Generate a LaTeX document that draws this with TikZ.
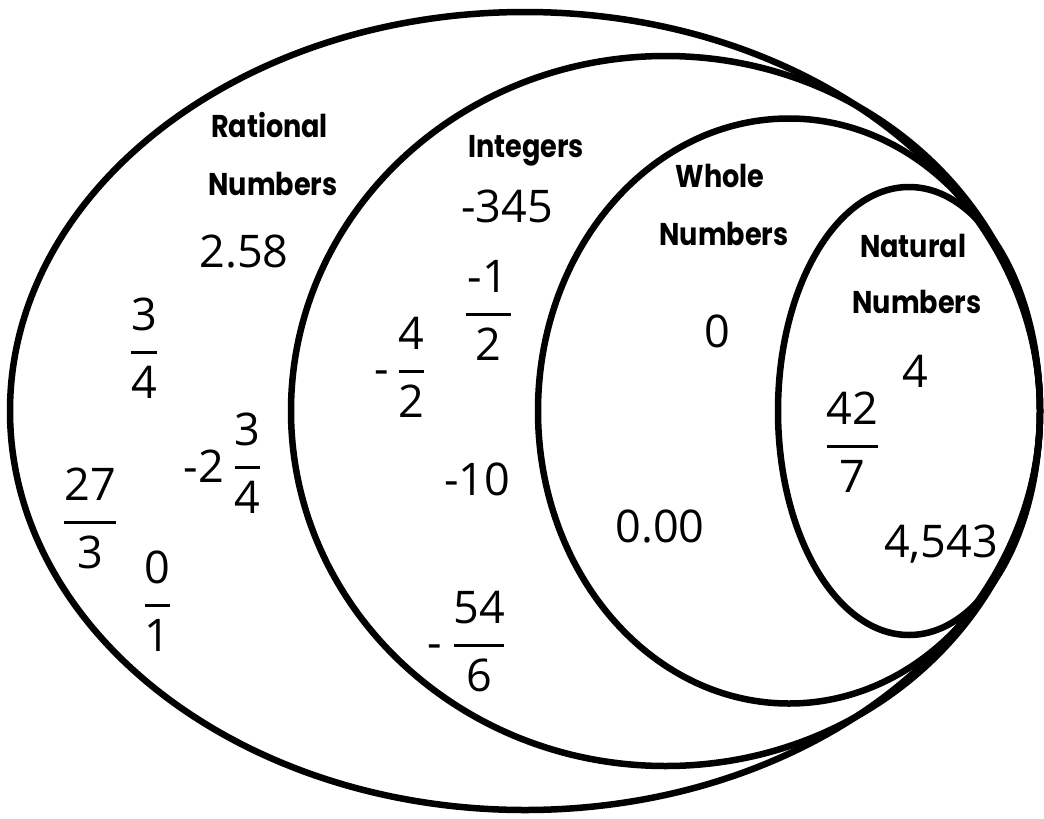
\documentclass[tikz,border=0pt]{standalone}
\usepackage{fontspec}
\setmainfont{Open Sans}
\newfontfamily\titlefont{Poppins}
\newcommand{\vennfrac}[6]{%
  \node[numtxt] (#1-n) at (#2,#3-22) {#4};
  \node[numtxt] (#1-d) at (#2,#3+46) {#5};
  \draw[fbar] (#2-#6,#3) -- (#2+#6,#3);}
\newcommand{\ttltext}[1]{\scalebox{0.86}[1]{#1}}
\begin{document}
\begin{tikzpicture}[x=1pt,y=-1pt,
  ring/.style={line width=6.5pt, draw=black},
  ttl/.style={font=\titlefont\bfseries\fontsize{31.5}{31.5}\selectfont, anchor=base, inner sep=0pt},
  numtxt/.style={font=\fontsize{45}{45}\selectfont, anchor=base, inner sep=0pt},
  fbar/.style={line width=3pt}]
\useasboundingbox (0,0) rectangle (1044,819);
% sets
\draw[ring] (525,411) ellipse [x radius=515, y radius=399];
\draw[ring] (665.5,411) ellipse [x radius=374.5, y radius=355];
\draw[ring] (789,411) ellipse [x radius=251, y radius=292.5];
\draw[ring] (909,411) ellipse [x radius=131, y radius=224];
% titles
\node[ttl] (rat1) at (269.5,137) {\ttltext{Rational}};
\node[ttl] (rat2) at (273,195) {\ttltext{Numbers}};
\node[ttl] (int1) at (526,157) {\ttltext{Integers}};
\node[ttl] (who1) at (720,187) {\ttltext{Whole}};
\node[ttl] (who2) at (724,245) {\ttltext{Numbers}};
\node[ttl] (nat1) at (913,257) {\ttltext{Natural}};
\node[ttl] (nat2) at (917,313) {\ttltext{Numbers}};
% plain numbers
\node[numtxt] (n258) at (244,267) {2.58};
\node[numtxt] (n345) at (507,222) {-345};
\node[numtxt] (nzero) at (717,347) {0};
\node[numtxt] (nfour) at (915,387) {4};
\node[numtxt] (nten) at (477,495) {-10};
\node[numtxt] (nzz) at (660,542) {0.00};
\node[numtxt] (n4543) at (941,557) {4,543};
\node[numtxt] (nmtwo) at (204,482) {-2};
\node[numtxt] (minA) at (381.5,384) {-};
\node[numtxt] (minB) at (435,658) {-};
% fractions
\vennfrac{fa}{144}{352}{3}{4}{13}
\vennfrac{fb}{90}{522}{27}{3}{26}
\vennfrac{fc}{157}{605}{0}{1}{12.5}
\vennfrac{fd}{247.5}{467}{3}{4}{12.5}
\vennfrac{fe}{488}{314}{-1}{2}{22.5}
\vennfrac{ff}{411.5}{371}{4}{2}{12.5}
\vennfrac{fg}{479}{645}{54}{6}{25}
\vennfrac{fh}{852.5}{446}{42}{7}{25.5}
\end{tikzpicture}
\end{document}
